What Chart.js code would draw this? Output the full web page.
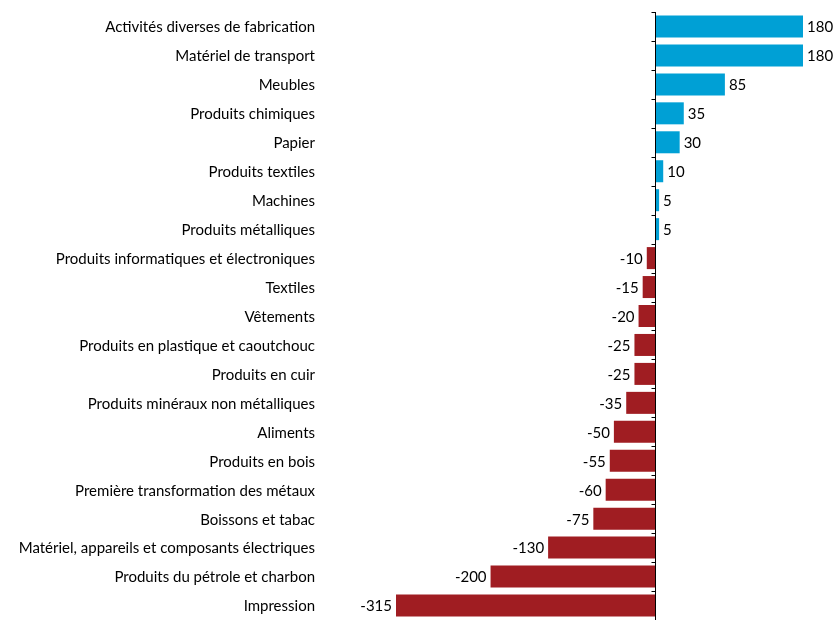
<!DOCTYPE html>
<html><head><meta charset="utf-8">
<script src="https://cdn.jsdelivr.net/npm/chart.js@4/dist/chart.umd.min.js"></script>
<style>html,body{margin:0;padding:0;background:#fff}canvas{display:block}</style>
</head><body><canvas id="c" width="836" height="620"></canvas>
<script>
const categories = ["Activités diverses de fabrication","Matériel de transport","Meubles","Produits chimiques","Papier","Produits textiles","Machines","Produits métalliques","Produits informatiques et électroniques","Textiles","Vêtements","Produits en plastique et caoutchouc","Produits en cuir","Produits minéraux non métalliques","Aliments","Produits en bois","Première transformation des métaux","Boissons et tabac","Matériel, appareils et composants électriques","Produits du pétrole et charbon","Impression"];
const values = [180,180,85,35,30,10,5,5,-10,-15,-20,-25,-25,-35,-50,-55,-60,-75,-130,-200,-315];
const BLUE = "#00A0D5", RED = "#A01D22";
const FONT = "Lato";
const FSIZE = 15;

const labelPlugin = {
  id: 'valLabels',
  afterDatasetsDraw(chart) {
    const ctx = chart.ctx;
    const meta = chart.getDatasetMeta(0);
    const xs = chart.scales.x, ys = chart.scales.y;
    const area = chart.chartArea;
    ctx.save();
    // zero axis line with category boundary ticks
    const x0 = Math.round(xs.getPixelForValue(0)) + 0.5;
    ctx.strokeStyle = "#000";
    ctx.lineWidth = 1;
    ctx.beginPath();
    ctx.moveTo(x0, area.top);
    ctx.lineTo(x0, area.bottom);
    for (let i = 0; i <= categories.length; i++) {
      const y = Math.round(ys.getPixelForValue(i - 0.5)) + 0.5;
      ctx.moveTo(x0 - 4, y);
      ctx.lineTo(x0, y);
    }
    ctx.stroke();
    // value labels
    ctx.font = FSIZE + "px " + FONT;
    ctx.fillStyle = "#000";
    ctx.textBaseline = "middle";
    meta.data.forEach((el, i) => {
      const v = values[i];
      if (v >= 0) { ctx.textAlign = "left"; ctx.fillText(String(v), el.x + 4, el.y + 1); }
      else { ctx.textAlign = "right"; ctx.fillText(String(v), el.x - 4, el.y + 1); }
    });
    ctx.restore();
  }
};

new Chart(document.getElementById('c'), {
  type: 'bar',
  data: {
    labels: categories,
    datasets: [{
      data: values,
      backgroundColor: values.map(v => v >= 0 ? BLUE : RED),
      borderWidth: 0,
      categoryPercentage: 1,
      barPercentage: 0.76
    }]
  },
  options: {
    indexAxis: 'y',
    responsive: false,
    animation: false,
    devicePixelRatio: 1,
    layout: { padding: { top: 12, right: 33, bottom: -1, left: 0 } },
    plugins: { legend: { display: false }, tooltip: { enabled: false } },
    scales: {
      x: { type: 'linear', display: false, min: -315, max: 180 },
      y: {
        type: 'category',
        position: 'left',
        grid: { display: false, drawTicks: false },
        border: { display: false },
        ticks: { color: "#000", font: { family: FONT, size: FSIZE }, padding: 81, labelOffset: 1, autoSkip: false },
        afterFit(s) { s.width = 396; s.paddingTop = 0; s.paddingBottom = 0; }
      }
    }
  },
  plugins: [labelPlugin]
});
</script>
</body></html>
